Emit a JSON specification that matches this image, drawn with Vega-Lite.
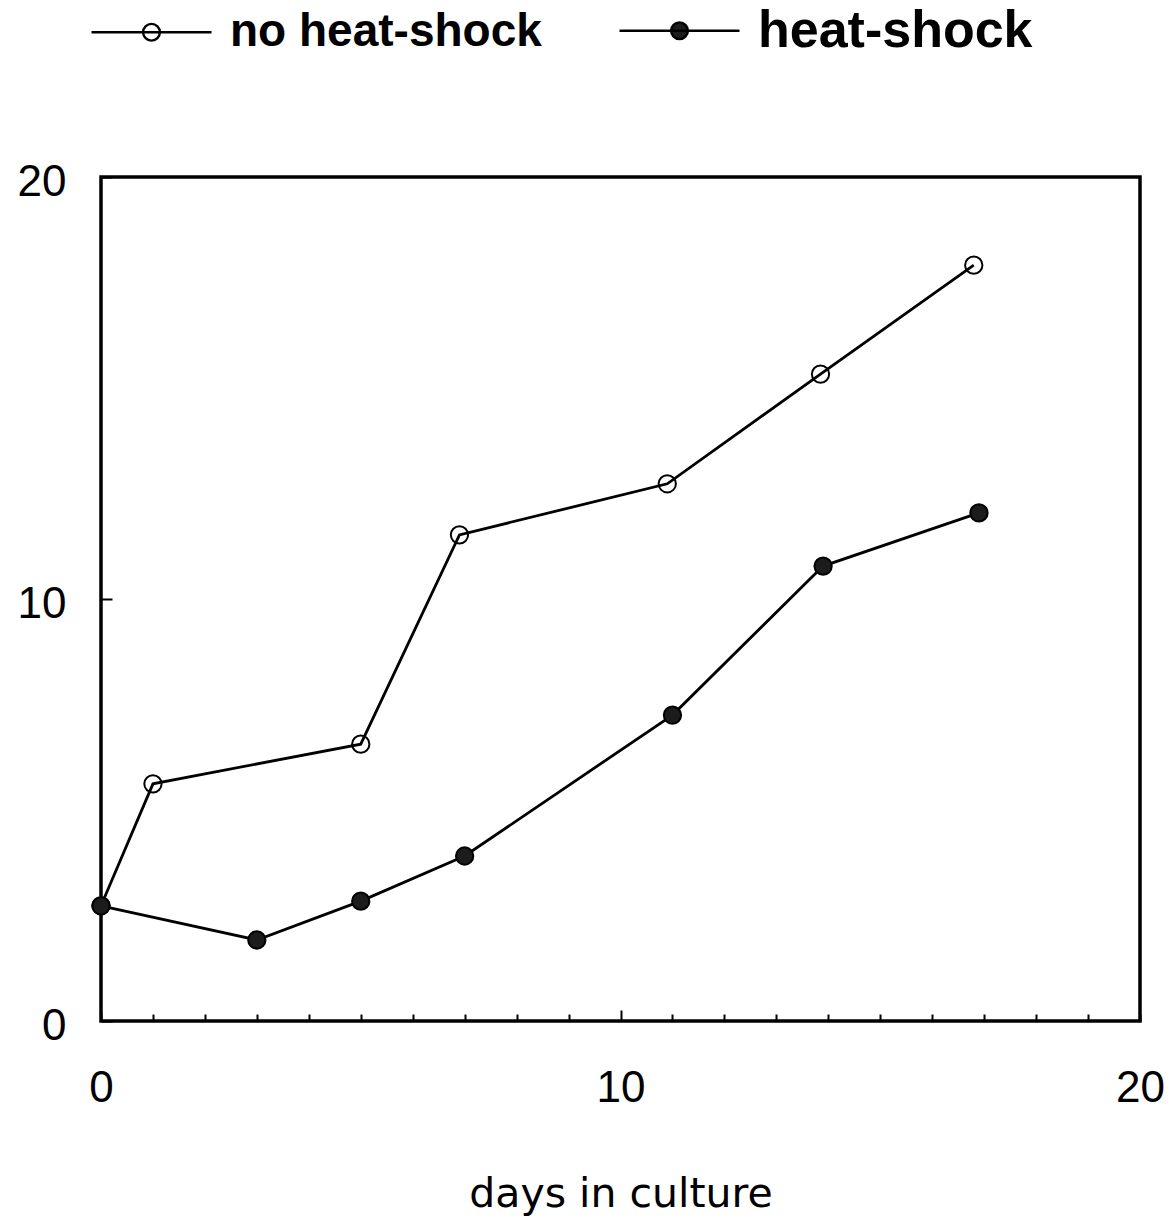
{
  "$schema": "https://vega.github.io/schema/vega-lite/v6.json",
  "width": 1039,
  "height": 844,
  "autosize": "none",
  "padding": {"left": 101, "top": 177, "right": 36, "bottom": 209},
  "background": "white",
  "data": {
    "values": [
      {"series": "no heat-shock", "day": 0, "value": 2.73},
      {"series": "no heat-shock", "day": 1.0, "value": 5.62},
      {"series": "no heat-shock", "day": 5.0, "value": 6.56},
      {"series": "no heat-shock", "day": 6.9, "value": 11.52},
      {"series": "no heat-shock", "day": 10.9, "value": 12.73},
      {"series": "no heat-shock", "day": 13.85, "value": 15.33},
      {"series": "no heat-shock", "day": 16.8, "value": 17.91},
      {"series": "heat-shock", "day": 0, "value": 2.73},
      {"series": "heat-shock", "day": 3.0, "value": 1.92},
      {"series": "heat-shock", "day": 5.0, "value": 2.84},
      {"series": "heat-shock", "day": 7.0, "value": 3.91},
      {"series": "heat-shock", "day": 11.0, "value": 7.25},
      {"series": "heat-shock", "day": 13.9, "value": 10.78},
      {"series": "heat-shock", "day": 16.9, "value": 12.04}
    ]
  },
  "encoding": {
    "x": {
      "field": "day",
      "type": "quantitative",
      "scale": {"domain": [0, 20], "nice": false, "zero": false},
      "axis": {
        "title": "days in culture",
        "values": [0, 1, 2, 3, 4, 5, 6, 7, 8, 9, 10, 11, 12, 13, 14, 15, 16, 17, 18, 19, 20],
        "labelExpr": "datum.value % 10 === 0 ? datum.label : ''",
        "tickSize": {"expr": "datum.value === 10 ? -11 : -7"},
        "labelPadding": {"expr": "datum.value === 10 ? 56 : 52"},
        "tickWidth": 2,
        "tickColor": "black",
        "labelFont": "Liberation Sans",
        "labelFontSize": 44,
        "labelColor": "black",
        "labelFlush": false,
        "labelBound": false,
        "labelOverlap": false,
        "titleFont": "DejaVu Sans",
        "titleFontSize": 41,
        "titleFontWeight": "normal",
        "titleColor": "black",
        "titlePadding": 64,
        "grid": false,
        "domain": false
      }
    },
    "y": {
      "field": "value",
      "type": "quantitative",
      "scale": {"domain": [0, 20], "nice": false},
      "axis": {
        "title": null,
        "values": [0, 10, 20],
        "tickSize": -11,
        "tickWidth": 2,
        "tickColor": "black",
        "labelPadding": 46,
        "labelOffset": 5,
        "labelFont": "Liberation Sans",
        "labelFontSize": 44,
        "labelColor": "black",
        "labelFlush": false,
        "labelBound": false,
        "grid": false,
        "domain": false
      }
    }
  },
  "layer": [
    {
      "mark": {"type": "line", "strokeWidth": 2.8},
      "encoding": {
        "stroke": {
          "field": "series",
          "type": "nominal",
          "scale": {"domain": ["no heat-shock", "heat-shock"], "range": ["black", "black"]},
          "legend": {
            "orient": "none",
            "legendX": -11,
            "legendY": -208,
            "direction": "horizontal",
            "title": null,
            "symbolType": "M-1,0H1M0.14,0A0.14,0.14,0,1,1,-0.14,0A0.14,0.14,0,1,1,0.14,0Z",
            "symbolSize": 14400,
            "symbolStrokeWidth": 2.4,
            "labelFont": "Liberation Sans",
            "labelFontWeight": "bold",
            "labelFontSize": {"expr": "datum.label === 'heat-shock' ? 52 : 46"},
            "labelColor": "black",
            "labelOffset": 17,
            "labelLimit": 600,
            "columnPadding": 72
          }
        }
      }
    },
    {
      "mark": {"type": "point", "filled": true, "size": 300, "stroke": "black", "strokeWidth": 2, "opacity": 1},
      "encoding": {
        "fill": {
          "field": "series",
          "type": "nominal",
          "scale": {"domain": ["no heat-shock", "heat-shock"], "range": ["transparent", "#1c1c1c"]},
          "legend": {
            "orient": "none",
            "legendX": -11,
            "legendY": -208,
            "direction": "horizontal",
            "title": null,
            "symbolType": "M-1,0H1M0.14,0A0.14,0.14,0,1,1,-0.14,0A0.14,0.14,0,1,1,0.14,0Z",
            "symbolSize": 14400,
            "symbolStrokeWidth": 2.4,
            "labelFont": "Liberation Sans",
            "labelFontWeight": "bold",
            "labelFontSize": {"expr": "datum.label === 'heat-shock' ? 52 : 46"},
            "labelColor": "black",
            "labelOffset": 17,
            "labelLimit": 600,
            "columnPadding": 72
          }
        }
      }
    }
  ],
  "config": {
    "view": {"stroke": "black", "strokeWidth": 3.5},
    "legend": {"padding": 0}
  }
}
